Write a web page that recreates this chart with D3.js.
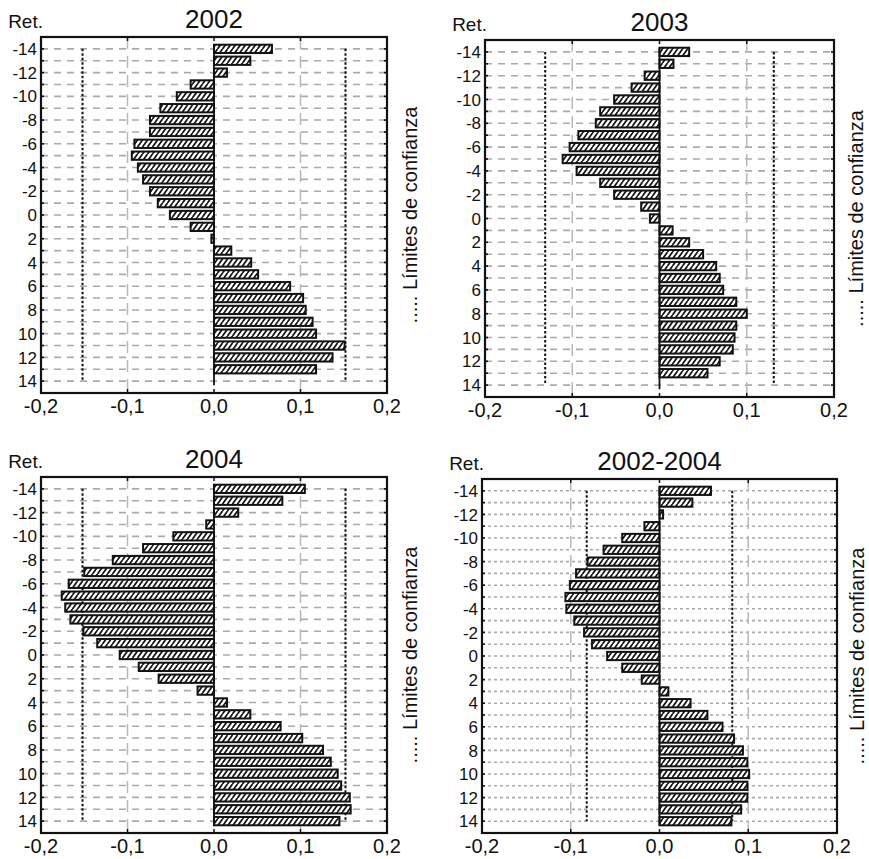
<!DOCTYPE html>
<html>
<head>
<meta charset="utf-8">
<script src="https://cdn.jsdelivr.net/npm/d3@7"></script>
<style>
body { margin: 0; background: #fff; }
svg text { font-family: "Liberation Sans", Arial, Helvetica, sans-serif; fill: #111; }
</style>
</head>
<body>
<div id="chart"></div>
<script>
// lags -14 .. 14
var lags = [-14, -13, -12, -11, -10, -9, -8, -7, -6, -5, -4, -3, -2, -1, 0, 1, 2, 3, 4, 5, 6, 7, 8, 9, 10, 11, 12, 13, 14];
var lagLabels = [-14, -12, -10, -8, -6, -4, -2, 0, 2, 4, 6, 8, 10, 12, 14];
var xTicks = [-0.2, -0.1, 0, 0.1, 0.2];
var titles = ['2002', '2003', '2004', '2002-2004'];

var vals2002 = [0.067, 0.042, 0.015, 0, -0.027, -0.043, -0.062, -0.074, -0.074, -0.092, -0.095, -0.088, -0.082, -0.074,
    -0.065, -0.051, -0.027, -0.003, 0.020, 0.043, 0.051, 0.088, 0.103, 0.106, 0.114, 0.118, 0.151, 0.137, 0.118];
var vals2003 = [0.034, 0.016, 0, -0.017, -0.032, -0.052, -0.068, -0.073, -0.093, -0.103, -0.111, -0.095, -0.068, -0.052,
    -0.021, -0.011, 0.015, 0.034, 0.050, 0.065, 0.069, 0.073, 0.088, 0.100, 0.088, 0.086, 0.084, 0.069, 0.055];
var vals2004 = [0.105, 0.079, 0.028, -0.009, -0.047, -0.082, -0.117, -0.150, -0.168, -0.176, -0.172, -0.166, -0.151, -0.135,
    -0.109, -0.087, -0.064, -0.019, 0.015, 0.042, 0.077, 0.102, 0.126, 0.135, 0.143, 0.147, 0.157, 0.158, 0.145];
var vals0204 = [0.058, 0.037, 0.004, -0.017, -0.042, -0.063, -0.081, -0.094, -0.101, -0.106, -0.105, -0.096, -0.085, -0.076,
    -0.059, -0.042, -0.020, 0.010, 0.035, 0.054, 0.071, 0.084, 0.094, 0.099, 0.101, 0.099, 0.099, 0.092, 0.081];
var series = [vals2002, vals2003, vals2004, vals0204];
// confidence limits (+/-)
var limits = [0.152, 0.131, 0.152, 0.082];

// panel frames (layout)
var frames = [
    {x: 41, y: 37, w: 346, h: 356, dash: '7,6', lab: 30},
    {x: 485, y: 40, w: 349, h: 357, dash: '7,6', lab: 29},
    {x: 41, y: 477, w: 346, h: 356, dash: '7,6', lab: 30},
    {x: 482, y: 479, w: 355, h: 354, dash: '3,3', lab: 27}
];

var svg = d3.select('#chart').append('svg')
    .attr('width', 869)
    .attr('height', 859);

var defs = svg.append('defs');
var pat = defs.append('pattern')
    .attr('id', 'hatch')
    .attr('patternUnits', 'userSpaceOnUse')
    .attr('width', 5)
    .attr('height', 7);
pat.append('rect').attr('width', 5).attr('height', 7).attr('fill', '#fff');
pat.append('path')
    .attr('d', 'M-2.5,7 L2.5,0 M2.5,7 L7.5,0 M-7.5,7 L-2.5,0')
    .attr('stroke', '#111')
    .attr('stroke-width', 1.7);

var fmt = function(d) { return d3.format('.1f')(d).replace('.', ',').replace('−', '-'); };

frames.forEach(function(f, k) {
    var g = svg.append('g');
    var x = d3.scaleLinear().domain([-0.2, 0.2]).range([f.x, f.x + f.w]);
    var y = d3.scaleLinear().domain([-15, 15]).range([f.y, f.y + f.h]);
    var step = y(1) - y(0);
    var bh = step * 0.7;

    // horizontal grid at each lag
    g.selectAll('.hgrid').data(lags).enter().append('line')
        .attr('x1', f.x).attr('x2', f.x + f.w)
        .attr('y1', function(d) { return y(d); })
        .attr('y2', function(d) { return y(d); })
        .attr('stroke', '#aaa')
        .attr('stroke-width', 1.6)
        .attr('stroke-dasharray', f.dash);

    // vertical gray lines at +-0.1
    g.selectAll('.vgrid').data([-0.1, 0.1]).enter().append('line')
        .attr('x1', function(d) { return x(d); })
        .attr('x2', function(d) { return x(d); })
        .attr('y1', f.y).attr('y2', f.y + f.h)
        .attr('stroke', '#b8b8b8')
        .attr('stroke-width', 1.5)
        .attr('stroke-dasharray', '12,7');

    // confidence limits
    g.selectAll('.lim').data([-limits[k], limits[k]]).enter().append('line')
        .attr('x1', function(d) { return x(d); })
        .attr('x2', function(d) { return x(d); })
        .attr('y1', y(-14)).attr('y2', y(14))
        .attr('stroke', '#111')
        .attr('stroke-width', 2)
        .attr('stroke-dasharray', '2.5,2');

    // bars
    g.selectAll('.bar').data(series[k]).enter().append('rect')
        .filter(function(d) { return d !== 0; })
        .attr('x', function(d) { return x(Math.min(0, d)); })
        .attr('width', function(d) { return Math.abs(x(d) - x(0)); })
        .attr('y', function(d, i) { return y(lags[i]) - bh / 2; })
        .attr('height', bh)
        .attr('fill', 'url(#hatch)')
        .attr('stroke', '#111')
        .attr('stroke-width', 2);

    // zero line
    g.append('line')
        .attr('x1', x(0)).attr('x2', x(0))
        .attr('y1', y(-14) - bh / 2).attr('y2', y(14) + bh / 2)
        .attr('stroke', '#111')
        .attr('stroke-width', 1.8);

    // frame
    g.append('rect')
        .attr('x', f.x).attr('y', f.y)
        .attr('width', f.w).attr('height', f.h)
        .attr('fill', 'none')
        .attr('stroke', '#111')
        .attr('stroke-width', 2.2);

    // inward ticks left and right
    g.selectAll('.tl').data(lags).enter().append('line')
        .attr('x1', f.x).attr('x2', f.x + 3)
        .attr('y1', function(d) { return y(d); })
        .attr('y2', function(d) { return y(d); })
        .attr('stroke', '#111').attr('stroke-width', 1.6);
    g.selectAll('.tr').data(lags).enter().append('line')
        .attr('x1', f.x + f.w - 3).attr('x2', f.x + f.w)
        .attr('y1', function(d) { return y(d); })
        .attr('y2', function(d) { return y(d); })
        .attr('stroke', '#111').attr('stroke-width', 1.6);
    // top / bottom ticks
    g.selectAll('.tt').data([-0.1, 0, 0.1]).enter().append('line')
        .attr('x1', function(d) { return x(d); })
        .attr('x2', function(d) { return x(d); })
        .attr('y1', f.y).attr('y2', f.y + 4)
        .attr('stroke', '#111').attr('stroke-width', 1.5);
    g.selectAll('.tb').data([-0.1, 0, 0.1]).enter().append('line')
        .attr('x1', function(d) { return x(d); })
        .attr('x2', function(d) { return x(d); })
        .attr('y1', f.y + f.h - 4).attr('y2', f.y + f.h)
        .attr('stroke', '#111').attr('stroke-width', 1.5);

    // y labels
    g.selectAll('.yl').data(lagLabels).enter().append('text')
        .attr('x', f.x - 4)
        .attr('y', function(d) { return y(d); })
        .attr('dy', '0.36em')
        .attr('text-anchor', 'end')
        .style('font-size', '17px')
        .text(function(d) { return d; });

    // x labels
    g.selectAll('.xl').data(xTicks).enter().append('text')
        .attr('x', function(d) { return x(d); })
        .attr('y', f.y + f.h + 20)
        .attr('text-anchor', 'middle')
        .style('font-size', '20px')
        .text(fmt);

    // title and "Ret."
    g.append('text')
        .attr('x', f.x + f.w / 2)
        .attr('y', f.y - 9)
        .attr('text-anchor', 'middle')
        .style('font-size', '26px')
        .text(titles[k]);
    g.append('text')
        .attr('x', f.x + 2)
        .attr('y', f.y - 9)
        .attr('text-anchor', 'end')
        .style('font-size', '19px')
        .text('Ret.');

    // side label
    g.append('text')
        .attr('transform', 'translate(' + (f.x + f.w + f.lab) + ',' + (f.y + f.h / 2) + ') rotate(-90)')
        .attr('text-anchor', 'middle')
        .style('font-size', '20px')
        .text('..... Límites de confianza');
});
</script>
</body>
</html>
